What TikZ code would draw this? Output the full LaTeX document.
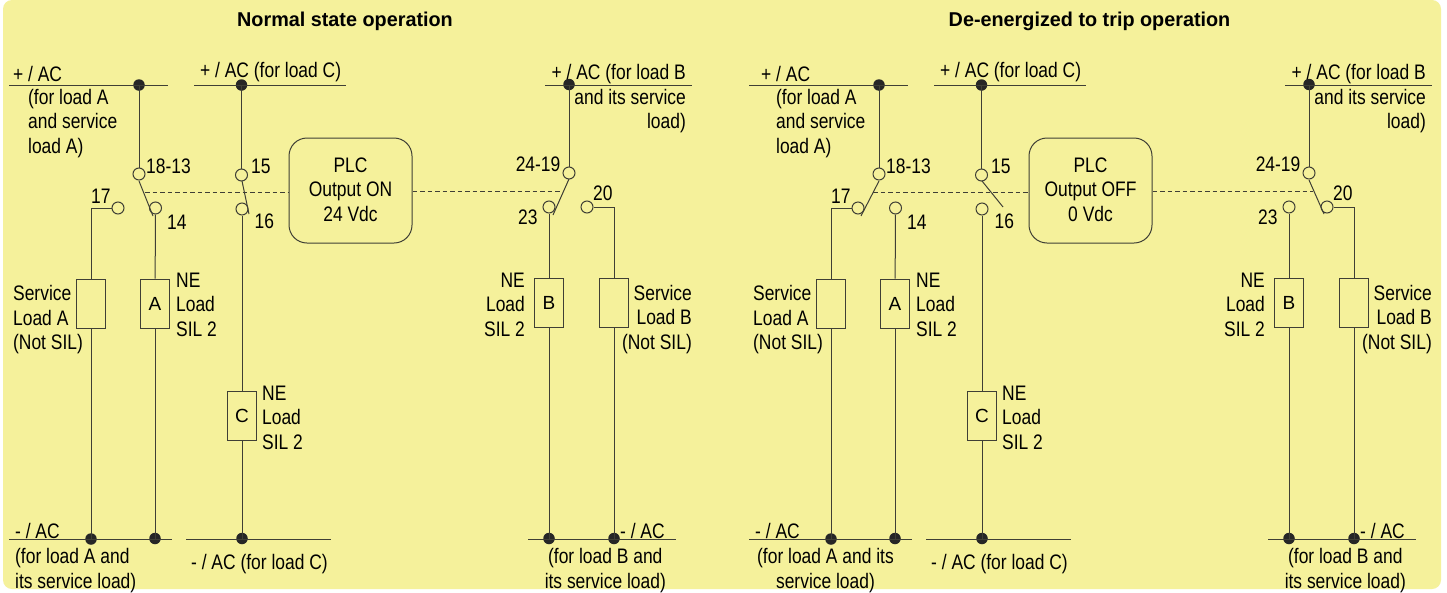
\documentclass[tikz,border=0pt]{standalone}
\usepackage{fontspec}
\setmainfont{Liberation Sans}
\definecolor{panelyellow}{HTML}{F5F19B}
\definecolor{wirecolor}{HTML}{3F3F35}
\tikzset{
  lbl/.style={font=\fontsize{21}{24.5}\selectfont, inner sep=0pt, xscale=0.83, transform shape, text=black},
  ttl/.style={font=\bfseries\fontsize{20}{24}\selectfont, inner sep=0pt, xscale=0.99, transform shape},
  wire/.style={draw=wirecolor, line width=1pt},
  link/.style={draw=wirecolor, line width=0.9pt, dash pattern=on 4.5pt off 3pt},
  term/.style={circle, draw=wirecolor, line width=1pt, minimum size=12pt, inner sep=0pt},
  dot/.style={circle, fill=black!85, minimum size=11.5pt, inner sep=0pt},
  load/.style={rectangle, draw=wirecolor, line width=1pt, minimum width=29pt, minimum height=49pt, inner sep=0pt, font=\fontsize{19}{20}\selectfont},
  plc/.style={rectangle, rounded corners=18pt, draw=wirecolor, line width=1pt, minimum width=123pt, minimum height=105pt}
}
\begin{document}
\begin{tikzpicture}[x=1pt,y=-1pt]
  \useasboundingbox (0,0) rectangle (1447,592);
  \fill[white] (0,0) rectangle (1447,592);
  \fill[panelyellow, rounded corners=9pt] (3,0) rectangle (1441,589);

  \node[ttl] (titleN) at (345,21) {Normal state operation};
  \node[ttl] (titleD) at (1089.5,21) {De-energized to trip operation};

  \foreach \p/\dx in {l/0,r/740} {
    \begin{scope}[xshift=\dx pt]
      \coordinate (\p-busA1) at (9,85);
      \coordinate (\p-busA2) at (168,85);
      \coordinate (\p-busC1) at (194,85);
      \coordinate (\p-busC2) at (346,85);
      \coordinate (\p-busB1) at (545,85);
      \coordinate (\p-busB2) at (692,85);
      \coordinate (\p-botA1) at (9,539);
      \coordinate (\p-botA2) at (172,539);
      \coordinate (\p-botC1) at (186,539);
      \coordinate (\p-botC2) at (331,539);
      \coordinate (\p-botB1) at (528,539);
      \coordinate (\p-botB2) at (676,539);
      \node[dot] (\p-dotA) at (139,85) {};
      \node[dot] (\p-dotC) at (241.5,85) {};
      \node[dot] (\p-dotB) at (569,84.5) {};
      \node[dot] (\p-dotS) at (91,539) {};
      \node[dot] (\p-dotL) at (155,538.5) {};
      \node[dot] (\p-dotK) at (242,538.5) {};
      \node[dot] (\p-dotN) at (549,538.5) {};
      \node[dot] (\p-dotT) at (614,538.5) {};
      \node[term] (\p-t18) at (139,174) {};
      \node[term] (\p-t14) at (155.5,208) {};
      \node[term] (\p-t17) at (118,208) {};
      \node[term] (\p-t15) at (241.5,175) {};
      \node[term] (\p-t16) at (242,209) {};
      \node[term] (\p-t24) at (569,173) {};
      \node[term] (\p-t23) at (549,207) {};
      \node[term] (\p-t20) at (587,207) {};
      \node[load] (\p-boxS) at (91,303.5) {};
      \node[load] (\p-boxA) at (155,303.5) {A};
      \node[load] (\p-boxC) at (242,415.5) {C};
      \node[load] (\p-boxB) at (549,302.5) {B};
      \node[load] (\p-boxT) at (614,302.5) {};
      \draw[wire] (\p-busA1) -- (\p-busA2);
      \draw[wire] (\p-busC1) -- (\p-busC2);
      \draw[wire] (\p-busB1) -- (\p-busB2);
      \draw[wire] (\p-botA1) -- (\p-botA2);
      \draw[wire] (\p-botC1) -- (\p-botC2);
      \draw[wire] (\p-botB1) -- (\p-botB2);
      \draw[wire] (\p-dotA.center) -- (\p-t18);
      \draw[wire] (\p-dotC.center) -- (\p-t15);
      \draw[wire] (\p-dotB.center) -- (\p-t24);
      \draw[wire] (\p-t17.west) -| (\p-boxS.north);
      \draw[wire] (\p-boxS.south) -- (\p-dotS.center);
      \draw[wire] (\p-t14) -- (\p-boxA);
      \draw[wire] (\p-boxA.south) -- (\p-dotL.center);
      \draw[wire] (\p-t16) -- (\p-boxC);
      \draw[wire] (\p-boxC.south) -- (\p-dotK.center);
      \draw[wire] (\p-t23) -- (\p-boxB);
      \draw[wire] (\p-boxB.south) -- (\p-dotN.center);
      \draw[wire] (\p-t20.east) -| (\p-boxT.north);
      \draw[wire] (\p-boxT.south) -- (\p-dotT.center);
      \node[lbl, anchor=west] (\p-n1813) at (146,166) {18-13};
      \node[lbl, anchor=west] (\p-n14) at (167,222) {14};
      \node[lbl, anchor=west] (\p-n17) at (91,196) {17};
      \node[lbl, anchor=west] (\p-n15) at (251,166) {15};
      \node[lbl, anchor=west] (\p-n16) at (254.5,221) {16};
      \node[lbl, anchor=east] (\p-n2419) at (560.5,164) {24-19};
      \node[lbl, anchor=west] (\p-n23) at (518,217) {23};
      \node[lbl, anchor=west] (\p-n20) at (593,193) {20};
      \node[lbl, anchor=west] (\p-plusC) at (200,72) {+ / AC (for load C)};
      \node[lbl, anchor=east, align=right] (\p-plusB) at (686,99) {+ / AC (for load B\\and its service\\load)};
      \node[lbl, anchor=west, align=left] (\p-loadS) at (13,320) {Service\\Load A\\(Not SIL)};
      \node[lbl, anchor=west, align=left] (\p-loadA) at (176,304.5) {NE\\Load\\SIL 2};
      \node[lbl, anchor=west, align=left] (\p-loadC) at (262,417.5) {NE\\Load\\SIL 2};
      \node[lbl, anchor=east, align=right] (\p-loadB) at (525,304.5) {NE\\Load\\SIL 2};
      \node[lbl, anchor=east, align=right] (\p-loadT) at (692,319.5) {Service\\Load B\\(Not SIL)};
      \node[lbl, anchor=west] (\p-minusC) at (191,564) {- / AC (for load C)};
      \node[lbl, anchor=west] (\p-minusB) at (620,531) {- / AC};
      \node[lbl, anchor=east, align=center] (\p-minusT) at (666,570.5) {(for load B and\\its service load)};
      \node[lbl, anchor=west] (\p-minusA) at (15,531) {- / AC};
    \end{scope}
  }

  \node[lbl, anchor=west] (l-plusA) at (13,74) {+ / AC};
  \node[lbl, anchor=west, align=left] (l-forA) at (28,123.5) {(for load A\\and service\\load A)};
  \node[lbl, anchor=west, align=left] (l-minusL) at (15,570.5) {(for load A and\\its service load)};
  \node[plc] (l-plc) at (350.5,190.5) {};
  \node[lbl, align=center] (l-plctext) at (350.5,189.5) {PLC\\Output ON\\24 Vdc};
  \coordinate (l-bladeA1) at (139,181);
  \coordinate (l-bladeA2) at (153,216);
  \coordinate (l-bladeC1) at (242,181);
  \coordinate (l-bladeC2) at (249,214);
  \coordinate (l-bladeB1) at (569,179);
  \coordinate (l-bladeB2) at (553,215);
  \coordinate (l-linkA) at (145,192);
  \coordinate (l-linkB) at (564,191);
  \draw[wire] (l-bladeA1) -- (l-bladeA2);
  \draw[wire] (l-bladeC1) -- (l-bladeC2);
  \draw[wire] (l-bladeB1) -- (l-bladeB2);
  \draw[link] (l-linkA) -- (l-linkA -| l-plc.west);
  \draw[link] (l-plc.east |- l-linkB) -- (l-linkB);

  \node[lbl, anchor=west] (r-plusA) at (761,74) {+ / AC};
  \node[lbl, anchor=west, align=left] (r-forA) at (776,123.5) {(for load A\\and service\\load A)};
  \node[lbl, anchor=west, align=center] (r-minusL) at (757,570.5) {(for load A and its\\service load)};
  \node[plc] (r-plc) at (1090.5,190.5) {};
  \node[lbl, align=center] (r-plctext) at (1090.5,189.5) {PLC\\Output OFF\\0 Vdc};
  \coordinate (r-bladeA1) at (879,181);
  \coordinate (r-bladeA2) at (861,216);
  \coordinate (r-bladeC1) at (982,181);
  \coordinate (r-bladeC2) at (1003,207);
  \coordinate (r-bladeB1) at (1309,180);
  \coordinate (r-bladeB2) at (1324,214);
  \coordinate (r-linkA) at (873,192);
  \coordinate (r-linkB) at (1313,191);
  \draw[wire] (r-bladeA1) -- (r-bladeA2);
  \draw[wire] (r-bladeC1) -- (r-bladeC2);
  \draw[wire] (r-bladeB1) -- (r-bladeB2);
  \draw[link] (r-linkA) -- (r-linkA -| r-plc.west);
  \draw[link] (r-plc.east |- r-linkB) -- (r-linkB);
\end{tikzpicture}
\end{document}
